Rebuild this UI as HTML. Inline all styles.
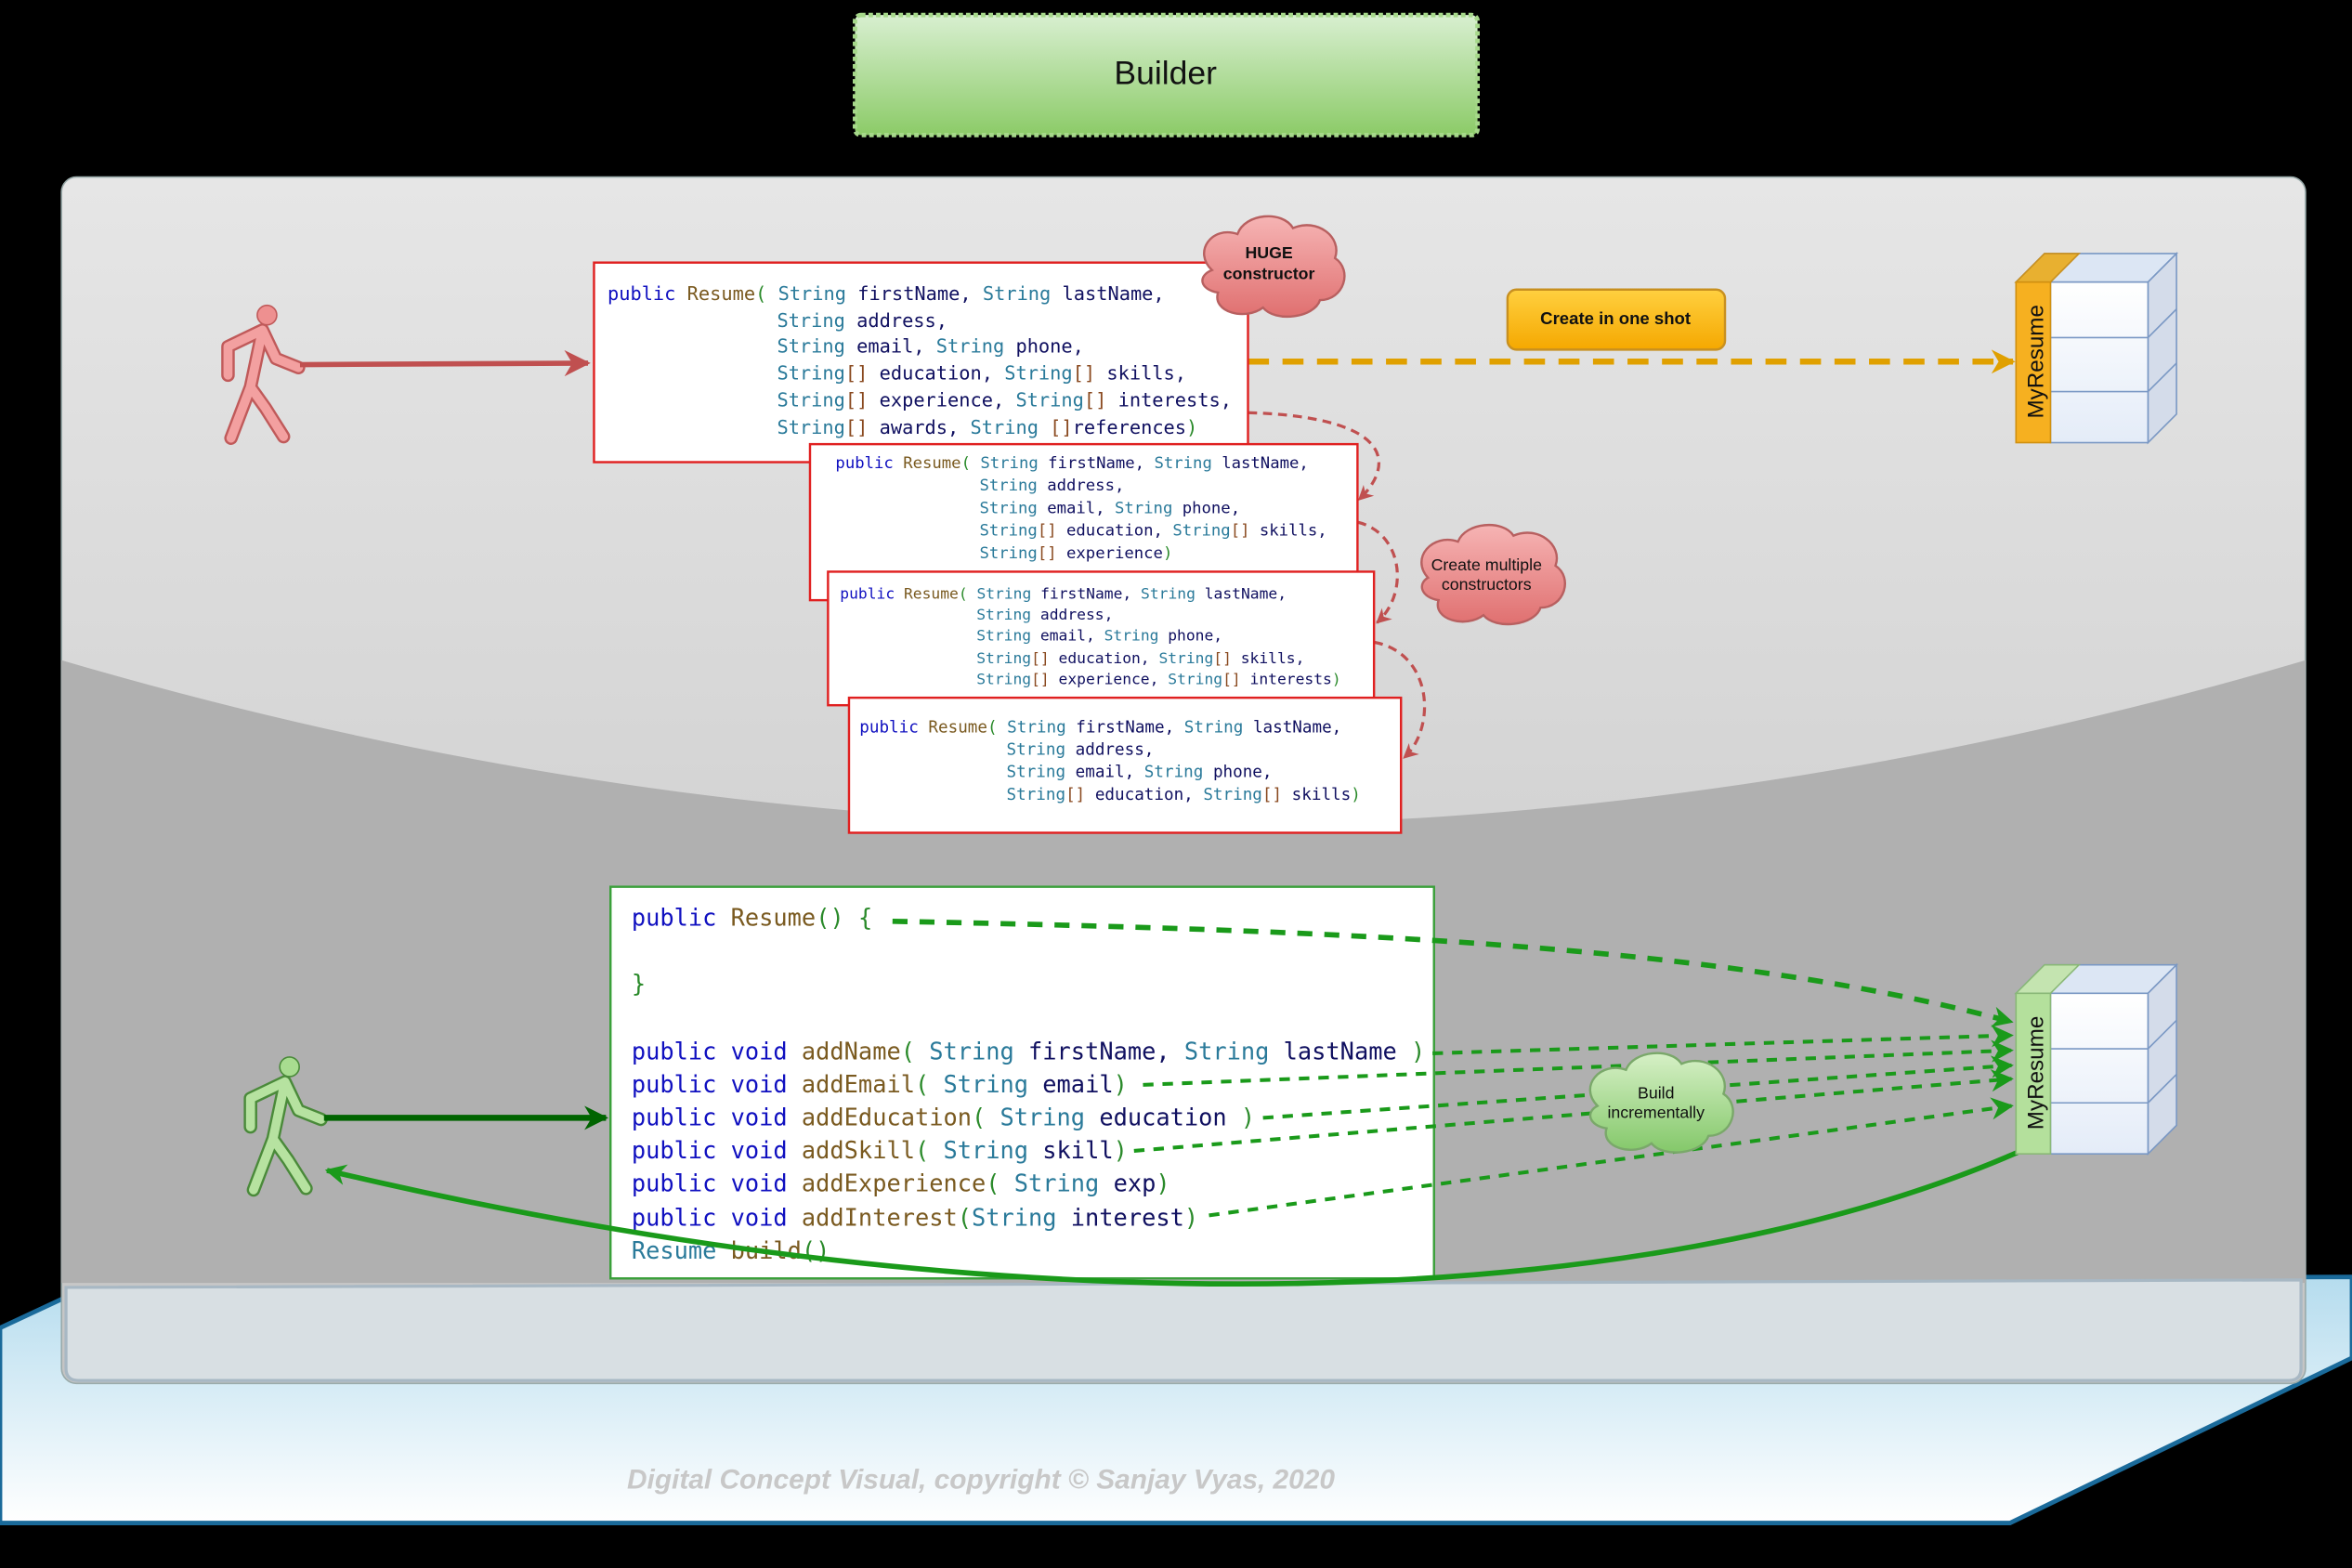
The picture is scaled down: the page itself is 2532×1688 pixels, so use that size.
<!DOCTYPE html>
<html><head><meta charset="utf-8"><style>html,body{margin:0;padding:0;background:#000;}svg{display:block}</style></head>
<body>
<svg xmlns="http://www.w3.org/2000/svg" width="2532" height="1688" viewBox="0 0 1568 1045" preserveAspectRatio="none">
<defs>
<linearGradient id="tg" x1="0" y1="0" x2="0" y2="1"><stop offset="0" stop-color="#d8efd0"/><stop offset="1" stop-color="#8ccb68"/></linearGradient>
<linearGradient id="fl" x1="0" y1="0" x2="0" y2="1"><stop offset="0" stop-color="#b5dcee"/><stop offset="1" stop-color="#ffffff"/></linearGradient>
<linearGradient id="pn" x1="0" y1="0" x2="0" y2="1"><stop offset="0" stop-color="#e6e6e6"/><stop offset="1" stop-color="#c4c4c4"/></linearGradient>
<linearGradient id="rp" x1="0" y1="0" x2="0" y2="1"><stop offset="0" stop-color="#f6b4b4"/><stop offset="1" stop-color="#e07070"/></linearGradient>
<linearGradient id="gp" x1="0" y1="0" x2="0" y2="1"><stop offset="0" stop-color="#d6f0c6"/><stop offset="1" stop-color="#84c86a"/></linearGradient>
<linearGradient id="ob" x1="0" y1="0" x2="0" y2="1"><stop offset="0" stop-color="#ffd040"/><stop offset="1" stop-color="#f5a800"/></linearGradient>
<linearGradient id="cb" x1="0" y1="0" x2="0" y2="1"><stop offset="0" stop-color="#ffffff"/><stop offset="1" stop-color="#e4ecf8"/></linearGradient>
<marker id="ar" viewBox="0 0 10 10" refX="9" refY="5" markerWidth="5" markerHeight="5" orient="auto"><path d="M0,0L10,5L0,10L3,5z" fill="#c05050"/></marker>
<marker id="ao" viewBox="0 0 10 10" refX="9" refY="5" markerWidth="4" markerHeight="4" orient="auto"><path d="M0,0L10,5L0,10L3,5z" fill="#e0a000"/></marker>
<marker id="ag" viewBox="0 0 10 10" refX="9" refY="5" markerWidth="4" markerHeight="4" orient="auto"><path d="M0,0L10,5L0,10L3,5z" fill="#006400"/></marker>
<marker id="ag2" viewBox="0 0 10 10" refX="9" refY="5" markerWidth="6" markerHeight="6" orient="auto"><path d="M0,0L10,5L0,10L3,5z" fill="#1a9a1a"/></marker>
<marker id="ag3" viewBox="0 0 10 10" refX="9" refY="5" markerWidth="4" markerHeight="4" orient="auto"><path d="M0,0L10,5L0,10L3,5z" fill="#1a9a1a"/></marker>
</defs>
<rect width="1568" height="1045" fill="#000"/>
<polygon points="60,857 1568,851 1568,905 1340,1015 0,1015 0,885" fill="url(#fl)" stroke="#1a6a9a" stroke-width="3"/>
<rect x="570" y="10" width="415" height="80" rx="4" fill="url(#tg)" stroke="#a6d88a" stroke-width="3" stroke-dasharray="3,2"/>
<text x="777" y="56" font-family="Liberation Sans, sans-serif" font-size="22" text-anchor="middle" fill="#111">Builder</text>
<rect x="41" y="118" width="1496" height="804" rx="10" fill="url(#pn)" stroke="#9aa" stroke-width="1"/>
<path d="M41,440 Q790,660 1537,440 L1537,855 L41,855 Z" fill="#b0b0b0"/>
<path d="M44,858 L1534,853 L1534,912 Q1534,920 1526,920 L52,920 Q44,920 44,912 Z" fill="#d8dfe3" stroke="#a8b8c4" stroke-width="2"/>
<g stroke="#c05a5a" stroke-width="9" stroke-linecap="round" stroke-linejoin="round" fill="none"><path d="M175,220 L167,258 L154,292 M167,258 L177,272 L189,291 M175,220 L152,231 L152,250 M175,220 L184,239 L199,245"/></g>
<g stroke="#f3a0a0" stroke-width="6" stroke-linecap="round" stroke-linejoin="round" fill="none"><path d="M175,220 L167,258 L154,292 M167,258 L177,272 L189,291 M175,220 L152,231 L152,250 M175,220 L184,239 L199,245"/></g>
<circle cx="178" cy="210" r="6.5" fill="#ee9090" stroke="#c05a5a"/>
<g transform="translate(15,501)">
<g stroke="#4a8a3a" stroke-width="9" stroke-linecap="round" stroke-linejoin="round" fill="none"><path d="M175,220 L167,258 L154,292 M167,258 L177,272 L189,291 M175,220 L152,231 L152,250 M175,220 L184,239 L199,245"/></g>
<g stroke="#b6e2a0" stroke-width="6" stroke-linecap="round" stroke-linejoin="round" fill="none"><path d="M175,220 L167,258 L154,292 M167,258 L177,272 L189,291 M175,220 L152,231 L152,250 M175,220 L184,239 L199,245"/></g>
<circle cx="178" cy="210" r="6.5" fill="#a8dc90" stroke="#4a8a3a"/>
</g>
<line x1="200" y1="243" x2="392" y2="242" stroke="#c05050" stroke-width="3.5" marker-end="url(#ar)"/>
<line x1="832" y1="241" x2="1342" y2="241" stroke="#e0a000" stroke-width="4" stroke-dasharray="14,9" marker-end="url(#ao)"/>
<g fill="none" stroke="#c05050" stroke-width="2" stroke-dasharray="6,4">
<path d="M832,275 C930,278 930,310 906,333" marker-end="url(#ar)"/>
<path d="M905,348 C935,355 940,395 918,415" marker-end="url(#ar)"/>
<path d="M916,428 C955,435 958,485 936,505" marker-end="url(#ar)"/>
</g>
<g font-family="DejaVu Sans Mono, Liberation Mono, monospace">
<rect x="396" y="175" width="436" height="133" fill="#fff" stroke="#e02020" stroke-width="1.5"/>
<g font-size="12.6" fill="#101060">
<text x="405" y="200"><tspan fill="#1010c0">public</tspan> <tspan fill="#7a5a20">Resume</tspan><tspan fill="#2a8a2a">(</tspan> <tspan fill="#2a7a9a">String</tspan> firstName, <tspan fill="#2a7a9a">String</tspan> lastName,</text>
<text x="518" y="218"><tspan fill="#2a7a9a">String</tspan> address,</text>
<text x="518" y="235"><tspan fill="#2a7a9a">String</tspan> email, <tspan fill="#2a7a9a">String</tspan> phone,</text>
<text x="518" y="253"><tspan fill="#2a7a9a">String</tspan><tspan fill="#8a4a20">[]</tspan> education, <tspan fill="#2a7a9a">String</tspan><tspan fill="#8a4a20">[]</tspan> skills,</text>
<text x="518" y="271"><tspan fill="#2a7a9a">String</tspan><tspan fill="#8a4a20">[]</tspan> experience, <tspan fill="#2a7a9a">String</tspan><tspan fill="#8a4a20">[]</tspan> interests,</text>
<text x="518" y="289"><tspan fill="#2a7a9a">String</tspan><tspan fill="#8a4a20">[]</tspan> awards, <tspan fill="#2a7a9a">String</tspan> <tspan fill="#8a4a20">[]</tspan>references<tspan fill="#2a8a2a">)</tspan></text>
</g>
<rect x="540" y="296" width="365" height="104" fill="#fff" stroke="#e02020" stroke-width="1.5"/>
<g font-size="10.7" fill="#101060">
<text x="557" y="312"><tspan fill="#1010c0">public</tspan> <tspan fill="#7a5a20">Resume</tspan><tspan fill="#2a8a2a">(</tspan> <tspan fill="#2a7a9a">String</tspan> firstName, <tspan fill="#2a7a9a">String</tspan> lastName,</text>
<text x="653" y="327"><tspan fill="#2a7a9a">String</tspan> address,</text>
<text x="653" y="342"><tspan fill="#2a7a9a">String</tspan> email, <tspan fill="#2a7a9a">String</tspan> phone,</text>
<text x="653" y="357"><tspan fill="#2a7a9a">String</tspan><tspan fill="#8a4a20">[]</tspan> education, <tspan fill="#2a7a9a">String</tspan><tspan fill="#8a4a20">[]</tspan> skills,</text>
<text x="653" y="372"><tspan fill="#2a7a9a">String</tspan><tspan fill="#8a4a20">[]</tspan> experience<tspan fill="#2a8a2a">)</tspan></text>
</g>
<rect x="552" y="381" width="364" height="89" fill="#fff" stroke="#e02020" stroke-width="1.5"/>
<g font-size="10.1" fill="#101060">
<text x="560" y="399"><tspan fill="#1010c0">public</tspan> <tspan fill="#7a5a20">Resume</tspan><tspan fill="#2a8a2a">(</tspan> <tspan fill="#2a7a9a">String</tspan> firstName, <tspan fill="#2a7a9a">String</tspan> lastName,</text>
<text x="651" y="413"><tspan fill="#2a7a9a">String</tspan> address,</text>
<text x="651" y="427"><tspan fill="#2a7a9a">String</tspan> email, <tspan fill="#2a7a9a">String</tspan> phone,</text>
<text x="651" y="442"><tspan fill="#2a7a9a">String</tspan><tspan fill="#8a4a20">[]</tspan> education, <tspan fill="#2a7a9a">String</tspan><tspan fill="#8a4a20">[]</tspan> skills,</text>
<text x="651" y="456"><tspan fill="#2a7a9a">String</tspan><tspan fill="#8a4a20">[]</tspan> experience, <tspan fill="#2a7a9a">String</tspan><tspan fill="#8a4a20">[]</tspan> interests<tspan fill="#2a8a2a">)</tspan></text>
</g>
<rect x="566" y="465" width="368" height="90" fill="#fff" stroke="#e02020" stroke-width="1.5"/>
<g font-size="10.9" fill="#101060">
<text x="573" y="488"><tspan fill="#1010c0">public</tspan> <tspan fill="#7a5a20">Resume</tspan><tspan fill="#2a8a2a">(</tspan> <tspan fill="#2a7a9a">String</tspan> firstName, <tspan fill="#2a7a9a">String</tspan> lastName,</text>
<text x="671" y="503"><tspan fill="#2a7a9a">String</tspan> address,</text>
<text x="671" y="518"><tspan fill="#2a7a9a">String</tspan> email, <tspan fill="#2a7a9a">String</tspan> phone,</text>
<text x="671" y="533"><tspan fill="#2a7a9a">String</tspan><tspan fill="#8a4a20">[]</tspan> education, <tspan fill="#2a7a9a">String</tspan><tspan fill="#8a4a20">[]</tspan> skills<tspan fill="#2a8a2a">)</tspan></text>
</g>
<rect x="407" y="591" width="549" height="261" fill="#fff" stroke="#3aa03a" stroke-width="1.5"/>
<g font-size="15.7" fill="#101060">
<text x="421" y="617"><tspan fill="#1010c0">public</tspan> <tspan fill="#7a5a20">Resume</tspan><tspan fill="#2a8a2a">() {</tspan></text>
<text x="421" y="661" fill="#2a8a2a">}</text>
<text x="421" y="706"><tspan fill="#1010c0">public void</tspan> <tspan fill="#7a5a20">addName</tspan><tspan fill="#2a8a2a">(</tspan> <tspan fill="#2a7a9a">String</tspan> firstName, <tspan fill="#2a7a9a">String</tspan> lastName <tspan fill="#2a8a2a">)</tspan></text>
<text x="421" y="728"><tspan fill="#1010c0">public void</tspan> <tspan fill="#7a5a20">addEmail</tspan><tspan fill="#2a8a2a">(</tspan> <tspan fill="#2a7a9a">String</tspan> email<tspan fill="#2a8a2a">)</tspan></text>
<text x="421" y="750"><tspan fill="#1010c0">public void</tspan> <tspan fill="#7a5a20">addEducation</tspan><tspan fill="#2a8a2a">(</tspan> <tspan fill="#2a7a9a">String</tspan> education <tspan fill="#2a8a2a">)</tspan></text>
<text x="421" y="772"><tspan fill="#1010c0">public void</tspan> <tspan fill="#7a5a20">addSkill</tspan><tspan fill="#2a8a2a">(</tspan> <tspan fill="#2a7a9a">String</tspan> skill<tspan fill="#2a8a2a">)</tspan></text>
<text x="421" y="794"><tspan fill="#1010c0">public void</tspan> <tspan fill="#7a5a20">addExperience</tspan><tspan fill="#2a8a2a">(</tspan> <tspan fill="#2a7a9a">String</tspan> exp<tspan fill="#2a8a2a">)</tspan></text>
<text x="421" y="817"><tspan fill="#1010c0">public void</tspan> <tspan fill="#7a5a20">addInterest</tspan><tspan fill="#2a8a2a">(</tspan><tspan fill="#2a7a9a">String</tspan> interest<tspan fill="#2a8a2a">)</tspan></text>
<text x="421" y="839"><tspan fill="#2a7a9a">Resume</tspan> <tspan fill="#7a5a20">build</tspan><tspan fill="#2a8a2a">()</tspan></text>
</g>
</g>
<line x1="216" y1="745" x2="404" y2="745" stroke="#006400" stroke-width="4" marker-end="url(#ag)"/>
<path d="M1345,768 C1100,875 680,890 218,780" fill="none" stroke="#1a9a1a" stroke-width="3.5" marker-end="url(#ag3)"/>
<g fill="none" stroke="#1a9a1a" stroke-width="2.5" stroke-dasharray="7,6">
<path d="M595,614 C900,620 1150,630 1341,681" stroke-width="3.5" stroke-dasharray="10,8" marker-end="url(#ag3)"/>
<line x1="955" y1="702" x2="1341" y2="690" marker-end="url(#ag2)"/>
<line x1="762" y1="723" x2="1341" y2="700" marker-end="url(#ag2)"/>
<line x1="842" y1="745" x2="1341" y2="710" marker-end="url(#ag2)"/>
<line x1="756" y1="767" x2="1341" y2="719" marker-end="url(#ag2)"/>
<line x1="806" y1="810" x2="1341" y2="737" marker-end="url(#ag2)"/>
</g>
<g stroke="#b86060" stroke-width="1.5" fill="url(#rp)">
<path d="M808,180 C795,168 808,150 825,156 C830,142 855,140 862,152 C878,145 895,158 890,172 C902,180 896,200 880,200 C876,212 850,215 842,205 C830,214 808,208 812,195 C800,193 798,184 808,180Z"/>
<path d="M952,385 C940,372 955,355 972,361 C977,348 1002,346 1009,357 C1025,350 1042,363 1037,377 C1049,385 1043,405 1027,405 C1023,417 997,420 989,410 C977,419 955,413 959,400 C947,398 945,389 952,385Z"/>
</g>
<path d="M1065,737 C1052,724 1067,707 1084,713 C1089,700 1114,698 1121,709 C1137,702 1154,715 1149,729 C1161,737 1155,757 1139,757 C1135,769 1109,772 1101,762 C1089,771 1067,765 1071,752 C1059,750 1057,741 1065,737Z" fill="url(#gp)" stroke="#7aa86a" stroke-width="1.5"/>
<g font-family="Liberation Sans, sans-serif" text-anchor="middle" fill="#111">
<text x="846" y="172" font-size="11" font-weight="bold">HUGE</text>
<text x="846" y="186" font-size="11" font-weight="bold">constructor</text>
<text x="991" y="380" font-size="11">Create multiple</text>
<text x="991" y="393" font-size="11">constructors</text>
<text x="1104" y="732" font-size="11">Build</text>
<text x="1104" y="745" font-size="11">incrementally</text>
</g>
<rect x="1005" y="193" width="145" height="40" rx="6" fill="url(#ob)" stroke="#c89020" stroke-width="1.5"/>
<text x="1077" y="216" font-family="Liberation Sans, sans-serif" font-size="11.5" font-weight="bold" text-anchor="middle" fill="#111">Create in one shot</text>
<g>
<polygon points="1344,188 1363,169 1451,169 1432,188" fill="#dce6f4" stroke="#7a98c4"/>
<polygon points="1432,188 1451,169 1451,276 1432,295" fill="#d4dcea" stroke="#7a98c4"/>
<rect x="1367" y="188" width="65" height="107" fill="url(#cb)" stroke="#7a98c4"/>
<line x1="1367" y1="225" x2="1432" y2="225" stroke="#7a98c4"/><line x1="1367" y1="261" x2="1432" y2="261" stroke="#7a98c4"/>
<line x1="1432" y1="225" x2="1451" y2="206" stroke="#7a98c4"/><line x1="1432" y1="261" x2="1451" y2="242" stroke="#7a98c4"/>
</g>
<polygon points="1344,188 1363,169 1386,169 1367,188" fill="#e8b030" stroke="#c89020"/>
<rect x="1344" y="188" width="23" height="107" fill="#f6b020" stroke="#d09010"/>
<text transform="translate(1362,241) rotate(-90)" font-family="Liberation Sans, sans-serif" font-size="15" text-anchor="middle" fill="#111">MyResume</text>
<g transform="translate(0,474)">
<polygon points="1344,188 1363,169 1451,169 1432,188" fill="#dce6f4" stroke="#7a98c4"/>
<polygon points="1432,188 1451,169 1451,276 1432,295" fill="#d4dcea" stroke="#7a98c4"/>
<rect x="1367" y="188" width="65" height="107" fill="url(#cb)" stroke="#7a98c4"/>
<line x1="1367" y1="225" x2="1432" y2="225" stroke="#7a98c4"/><line x1="1367" y1="261" x2="1432" y2="261" stroke="#7a98c4"/>
<line x1="1432" y1="225" x2="1451" y2="206" stroke="#7a98c4"/><line x1="1432" y1="261" x2="1451" y2="242" stroke="#7a98c4"/>
<polygon points="1344,188 1363,169 1386,169 1367,188" fill="#c4e4b0" stroke="#8ab878"/>
<rect x="1344" y="188" width="23" height="107" fill="#b4e09c" stroke="#8ab878"/>
<text transform="translate(1362,241) rotate(-90)" font-family="Liberation Sans, sans-serif" font-size="15" text-anchor="middle" fill="#111">MyResume</text>
</g>
<text x="418" y="992" font-family="Liberation Sans, sans-serif" font-size="18.5" font-style="italic" font-weight="bold" fill="#c8c8c8">Digital Concept Visual, copyright © Sanjay Vyas, 2020</text>
</svg>
</body></html>
